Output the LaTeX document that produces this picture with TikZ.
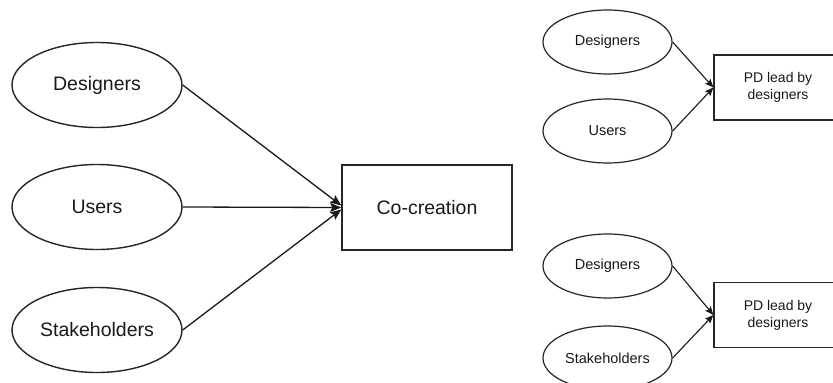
\documentclass[tikz,border=0pt]{standalone}
\usepackage{fontspec}
\setmainfont{Liberation Sans}
\usetikzlibrary{shapes.geometric,arrows.meta}
\begin{document}
\begin{tikzpicture}[x=1pt,y=-1pt,
  bigell/.style={ellipse,draw=black!85,line width=1.4pt,minimum width=170pt,minimum height=85pt,inner sep=0pt,font=\fontsize{19.5}{22}\selectfont,text=black!90},
  smallell/.style={ellipse,draw=black!85,line width=1.2pt,minimum width=129pt,minimum height=64pt,inner sep=0pt,font=\fontsize{14.5}{17}\selectfont,text=black!90},
  bigbox/.style={rectangle,draw=black!85,line width=1.5pt,minimum width=170pt,minimum height=85pt,inner sep=0pt,font=\fontsize{19.5}{22}\selectfont,text=black!90},
  smallbox/.style={rectangle,draw=black!85,line width=1.2pt,minimum width=128pt,minimum height=65pt,inner sep=0pt,align=center,font=\fontsize{14}{17}\selectfont,text=black!90},
  conn/.style={draw=black!90,line width=1.3pt,-{Stealth[length=11pt,width=9pt,inset=2pt]}},
  sconn/.style={draw=black!90,line width=1.1pt,-{Stealth[length=8.5pt,width=7pt,inset=1.5pt]}}
]
\useasboundingbox (0,0) rectangle (833,383);
\clip (0,0) rectangle (833,383);
\fill[white] (0,0) rectangle (833,383);
% left group
\node[bigell] (d1) at (97,85) {Designers};
\node[bigell] (u1) at (97,207) {Users};
\node[bigell] (s1) at (97,330) {Stakeholders};
\node[bigbox] (cc) at (427,207.5) {Co-creation};
\draw[conn] (d1.east) -- ([yshift=2pt]cc.west);
\draw[conn] (u1.east) -- (cc.west);
\draw[conn] (s1.east) -- ([yshift=-2pt]cc.west);
% top right group
\node[smallell] (d2) at (607.5,42) {Designers};
\node[smallell] (u2) at (607.5,131) {Users};
\node[smallbox] (p1) at (778,87.5) {PD lead by\\designers};
\draw[sconn] (d2.east) -- (p1.west);
\draw[sconn] (u2.east) -- (p1.west);
% bottom right group
\node[smallell] (d3) at (607.5,266) {Designers};
\node[smallell] (s3) at (607.5,358) {Stakeholders};
\node[smallbox] (p2) at (778,315) {PD lead by\\designers};
\draw[sconn] (d3.east) -- (p2.west);
\draw[sconn] (s3.east) -- (p2.west);
\end{tikzpicture}
\end{document}
